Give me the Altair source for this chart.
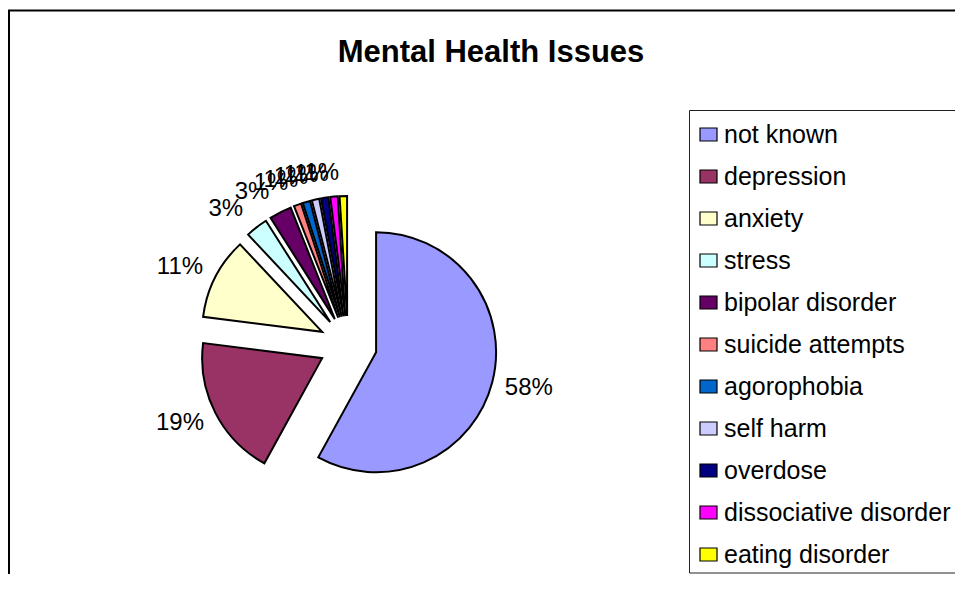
import altair as alt
import pandas as pd

title_text = "Mental Health Issues"
categories = ["not known", "depression", "anxiety", "stress", "bipolar disorder",
              "suicide attempts", "agorophobia", "self harm", "overdose",
              "dissociative disorder", "eating disorder"]
values = [58, 19, 11, 3, 3, 1, 1, 1, 1, 1, 1]
colors = ["#9999FF", "#993366", "#FFFFCC", "#CCFFFF", "#660066", "#FF8080",
          "#0066CC", "#CCCCFF", "#000080", "#FF00FF", "#FFFF00"]

W, H = 947, 566
CX, CY = 340, 337      # pie centre (plot coords)
R = 120                # pie radius
EXPLODE = 29           # slice offset
LRX, LRY = 165, 172    # label placement radii
HALF_W = 21            # labels sit beside the slice (half label width)
FONT = "Liberation Sans"

df = pd.DataFrame({"category": categories, "value": values,
                   "order": list(range(len(categories)))})

base = alt.Chart(df).transform_window(
    cum="sum(value)", sort=[alt.SortField("order")], frame=[None, 0]
).transform_joinaggregate(total="sum(value)").transform_calculate(
    t0="2*PI*(datum.cum - datum.value)/datum.total",
    t1="2*PI*datum.cum/datum.total",
    tm="(datum.t0 + datum.t1)/2",
    cx=f"{CX} + {EXPLODE}*sin(datum.tm)",
    cy=f"{CY} - {EXPLODE}*cos(datum.tm)",
    lx=f"{CX} + {LRX}*sin(datum.tm) + (sin(datum.tm) >= 0 ? {HALF_W} : -{HALF_W})",
    ly=f"{CY} - {LRY}*cos(datum.tm)",
    label="datum.value + '%'",
)

arcs = base.mark_arc(stroke="black", strokeWidth=2, radius=R).encode(
    theta=alt.Theta("t0:Q", scale=None, stack=None),
    theta2="t1:Q",
    x=alt.X("cx:Q", scale=None, axis=None),
    y=alt.Y("cy:Q", scale=None, axis=None),
    color=alt.Color(
        "category:N",
        scale=alt.Scale(domain=categories, range=colors),
        legend=alt.Legend(
            orient="none", legendX=688, legendY=114, title=None,
            symbolType="M-1,-0.765H1V0.765H-1Z", symbolSize=289,
            symbolStrokeColor="black", symbolStrokeWidth=1.2,
            symbolOpacity=1,
            labelFontSize=25, labelFont=FONT, labelColor="black",
            labelLimit=400, rowPadding=16, labelOffset=3, padding=0,
            zindex=1,
        ),
    ),
)

labels = base.mark_text(fontSize=24, font=FONT, color="black",
                        align="center", baseline="middle").encode(
    x=alt.X("lx:Q", scale=None, axis=None),
    y=alt.Y("ly:Q", scale=None, axis=None),
    text="label:N",
)

one = pd.DataFrame({"t": [title_text]})

title = alt.Chart(one).mark_text(fontSize=31, fontWeight="bold", font=FONT,
                                 color="black", align="center",
                                 baseline="alphabetic").encode(
    text="t:N", x=alt.value(483), y=alt.value(54))

frame_left = alt.Chart(one).mark_rule(color="black", strokeWidth=2).encode(
    x=alt.value(1), y=alt.value(2), y2=alt.value(H))
frame_top = alt.Chart(one).mark_rule(color="black", strokeWidth=2).encode(
    x=alt.value(0), x2=alt.value(W), y=alt.value(2.5))

legend_box = alt.Chart(one).mark_rect(fillOpacity=0, stroke="#222222",
                                      strokeWidth=1).encode(
    x=alt.value(681.5), x2=alt.value(W + 40), y=alt.value(102.5),
    y2=alt.value(565))

chart = alt.layer(frame_left, frame_top, legend_box, arcs, labels, title).properties(
    width=W, height=H, padding=0,
    autosize=alt.AutoSizeParams(type="none"),
).configure_view(stroke="transparent", strokeWidth=0)

chart.save("out.html", embed_options={"renderer": "svg", "actions": False})
